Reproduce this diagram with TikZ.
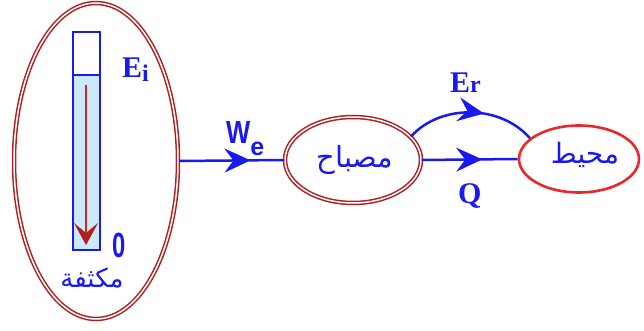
\documentclass[tikz,border=0pt]{standalone}
\usepackage{fontspec}
\usepackage{graphicx}
\setmainfont{Liberation Serif}
\newfontfamily\sansf{Liberation Sans}
\newfontfamily\arabicfont[Script=Arabic]{DejaVu Sans}
\TeXXeTstate=1
\usetikzlibrary{shapes.geometric,arrows.meta,decorations.markings}
\definecolor{dred}{RGB}{178,30,30}
\definecolor{envred}{RGB}{235,40,40}
\definecolor{lblue}{RGB}{25,25,240}
\definecolor{fillblue}{RGB}{204,232,250}
\definecolor{arrred}{RGB}{200,40,40}
\begin{document}
\begin{tikzpicture}[x=1pt,y=-1pt,
  dellipse/.style={ellipse, draw=dred, double=white, line width=1.5pt, double distance=1.5pt, inner sep=0pt},
  flow/.style={draw=lblue, line width=2.5pt, postaction={decorate},
    decoration={markings, mark=at position #1 with {\arrow{Stealth[length=26pt,width=24pt,inset=9pt]}}}},
  lbl/.style={text=lblue, inner sep=0pt},
  serifbig/.style={font=\fontsize{30}{30}\selectfont\bfseries},
  arab/.style={text=lblue, inner sep=0pt, font=\arabicfont\fontsize{29}{32}\selectfont}
]
\useasboundingbox (0,0) rectangle (644,331);
% capacitor ellipse
\node[dellipse, minimum width=164pt, minimum height=316pt] (cond) at (96,161) {};
% tube
\fill[fillblue] (73,75) rectangle (100,250);
\draw[lblue, line width=2.2pt] (73,32) rectangle (100,250);
\draw[lblue, line width=2.2pt] (73,75) -- (100,75);
\coordinate (tubetop) at (86,85);
\coordinate (tubebot) at (86,245);
\draw[arrred, line width=1.2pt, -{Stealth[length=22pt,width=24pt,inset=10pt,color=dred]}] (tubetop) -- (tubebot);
\node[lbl, serifbig, anchor=base west] (Ei) at (122,78) {E\raisebox{-4pt}{\fontsize{24}{24}\selectfont i}};
\node[lbl, anchor=base west, font=\sansf\bfseries\fontsize{35}{35}\selectfont] (zero) at (112,257) {\scalebox{0.68}[1]{0}};
\node[arab, font=\arabicfont\fontsize{26}{30}\selectfont] (capname) at (92,278) {\beginR مكثفة\endR};
% lamp
\node[dellipse, minimum width=136pt, minimum height=86pt] (lamp) at (353,160) {};
\node[arab] (lampname) at (355,160) {\beginR مصباح\endR};
% environment
\node[ellipse, draw=envred, line width=2.6pt, minimum width=120pt, minimum height=67pt, inner sep=0pt] (env) at (579,159) {};
\node[arab, font=\arabicfont\fontsize{28}{32}\selectfont] (envname) at (585,155) {\beginR محيط\endR};
% connectors
\path[flow=0.68] (cond.east) -- (lamp.west);
\path[flow=0.63] (lamp.east) -- (env.west);
\path[flow=0.6] (lamp.22) .. controls (440,104) and (500,104) .. (env.157);
% labels
\node[lbl, anchor=base west, font=\sansf\bfseries\fontsize{32}{32}\selectfont] (We) at (226,143) {\scalebox{0.8}[1]{W}\raisebox{-12pt}{\fontsize{25}{25}\selectfont e}};
\node[lbl, serifbig, anchor=base west] (Er) at (450,93) {E{\fontsize{24}{24}\selectfont r}};
\node[lbl, serifbig, anchor=base west] (Q) at (458,203) {Q};
\end{tikzpicture}
\end{document}
